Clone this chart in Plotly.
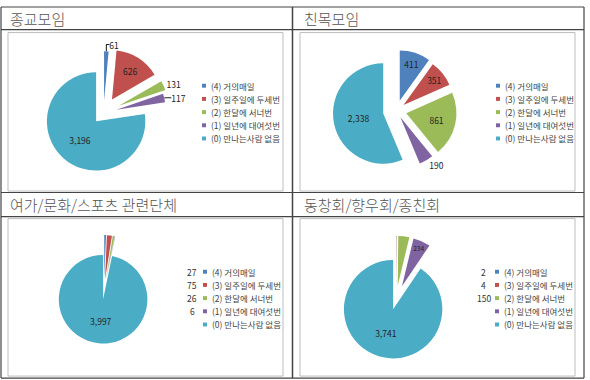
import plotly.graph_objects as go

W, H = 590, 380

# ---------------- data ----------------
categories = ["(4) 거의매일", "(3) 일주일에 두세번", "(2) 한달에 서너번",
              "(1) 일년에 대여섯번", "(0) 만나는사람 없음"]
colors = ["#4F81BD", "#C0504D", "#9BBB59", "#8064A2", "#4BACC6"]

titles = ["종교모임", "친목모임", "여가/문화/스포츠 관련단체", "동창회/향우회/종친회"]

values_religion = [61, 626, 131, 117, 3196]
values_social = [411, 351, 861, 190, 2338]
values_leisure = [27, 75, 26, 6, 3997]
values_alumni = [2, 4, 150, 234, 3741]

# where each value label is shown: on the slice, outside it, beside the legend
labels_religion = ["outside", "inside", "outside", "outside", "inside"]
labels_social = ["inside", "inside", "inside", "outside", "inside"]
labels_leisure = ["side", "side", "side", "side", "inside"]
labels_alumni = ["side", "side", "side", "inside", "inside"]

# ---------------- layout settings ----------------
panels = [
    dict(values=values_religion, modes=labels_religion, title=titles[0],
         cx=103.5, cy=108.5, r=50, pull=[0.25, 0.32, 0.34, 0.27, 0.23],
         box=(8, 27, 283, 188), title_xy=(8, 13), leg_x=204, leg_y=81, side_x=192),
    dict(values=values_social, modes=labels_social, title=titles[1],
         cx=396.5, cy=106.5, r=51, pull=[0.21, 0.18, 0.2, 0.15, 0.27],
         box=(300, 27, 575, 188), title_xy=(302, 13), leg_x=498, leg_y=81, side_x=484),
    dict(values=values_leisure, modes=labels_leisure, title=titles[2],
         cx=104, cy=289, r=45, pull=[0.25, 0.25, 0.25, 0.25, 0.2],
         box=(8, 216, 283, 376), title_xy=(8, 202), leg_x=205, leg_y=270, side_x=192),
    dict(values=values_alumni, modes=labels_alumni, title=titles[3],
         cx=396, cy=298.5, r=50, pull=[0.3, 0.3, 0.3, 0.3, 0.2],
         box=(300, 216, 575, 376), title_xy=(302, 202), leg_x=497, leg_y=270, side_x=484),
]
LEG_STEP = 13.4
FONT = "Noto Sans CJK KR"

fig = go.Figure()
shapes = []
annotations = []

for p in panels:
    maxpull = max(p["pull"])
    side = 2 * p["r"] * (1 + maxpull)
    dom_x = [(p["cx"] - side / 2) / W, (p["cx"] + side / 2) / W]
    dom_y = [1 - (p["cy"] + side / 2) / H, 1 - (p["cy"] - side / 2) / H]
    textpos = [m if m in ("inside", "outside") else "none" for m in p["modes"]]
    fig.add_trace(go.Pie(
        labels=categories, values=p["values"], sort=False, direction="clockwise",
        rotation=0, pull=p["pull"], marker=dict(colors=colors, line=dict(width=0)),
        texttemplate="%{value:,}", textposition=textpos,
        insidetextorientation="horizontal",
        textfont=dict(family=FONT, size=8.5, color="#222"),
        domain=dict(x=dom_x, y=dom_y), showlegend=False, hoverinfo="label+value",
    ))

    # inner chart frame
    x0, y0, x1, y1 = p["box"]
    shapes.append(dict(type="rect", xref="paper", yref="paper",
                       x0=x0 / W, x1=x1 / W, y0=1 - y1 / H, y1=1 - y0 / H,
                       line=dict(color="#BDBDBD", width=1)))
    # panel title
    tx, ty = p["title_xy"]
    annotations.append(dict(text=p["title"], x=tx / W, y=1 - ty / H, xref="paper",
                            yref="paper", xanchor="left", yanchor="middle",
                            showarrow=False,
                            font=dict(family=FONT, size=15, color="#555", weight=300)))
    # legend
    for i, (cat, col) in enumerate(zip(categories, colors)):
        ly = p["leg_y"] + i * LEG_STEP
        shapes.append(dict(type="rect", xref="paper", yref="paper",
                           x0=(p["leg_x"] - 2) / W, x1=(p["leg_x"] + 2) / W,
                           y0=1 - (ly + 2) / H, y1=1 - (ly - 2) / H,
                           fillcolor=col, line=dict(width=0)))
        annotations.append(dict(text=cat, x=(p["leg_x"] + 4.5) / W, y=1 - ly / H,
                                xref="paper", yref="paper", xanchor="left",
                                yanchor="middle", showarrow=False,
                                font=dict(family=FONT, size=8.5, color="#444")))
        if p["modes"][i] == "side":
            annotations.append(dict(text=f"{p['values'][i]:,}", x=p["side_x"] / W,
                                    y=1 - ly / H, xref="paper", yref="paper",
                                    xanchor="center", yanchor="middle",
                                    showarrow=False,
                                    font=dict(family=FONT, size=8.5, color="#333")))

# table grid lines
hlines = [1, 24, 189.5, 214, 378]
vlines = [1, 292.5, 584]
for y in hlines:
    shapes.append(dict(type="line", xref="paper", yref="paper", x0=1 / W, x1=584 / W,
                       y0=1 - y / H, y1=1 - y / H, line=dict(color="#444", width=1.2)))
for x in vlines:
    shapes.append(dict(type="line", xref="paper", yref="paper", x0=x / W, x1=x / W,
                       y0=1 - 378 / H, y1=1 - 1 / H,
                       line=dict(color="#444", width=1.5 if x == 292.5 else 1.2)))

fig.update_layout(
    width=W, height=H, margin=dict(l=0, r=0, t=0, b=0),
    paper_bgcolor="white", plot_bgcolor="white",
    shapes=shapes, annotations=annotations, showlegend=False,
    font=dict(family=FONT),
)

fig.write_html("out.html")
